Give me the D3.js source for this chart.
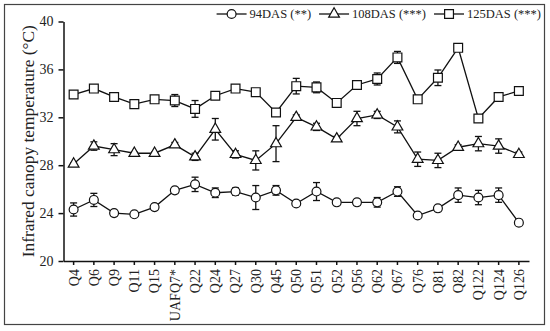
<!DOCTYPE html>
<html>
<head>
<meta charset="utf-8">
<script src="https://cdn.jsdelivr.net/npm/d3@7"></script>
<style>
  body { margin: 0; background: #fff; }
  svg text { font-family: "Liberation Serif", "DejaVu Serif", serif; fill: #222; }
</style>
</head>
<body>
<svg id="chart" width="550" height="331"></svg>
<script>
// genotypes on the x axis
const cats = ["Q4","Q6","Q9","Q11","Q15","UAFQ7*","Q22","Q24","Q27","Q30","Q45","Q50",
              "Q51","Q52","Q56","Q62","Q67","Q76","Q81","Q82","Q122","Q124","Q126"]

const das94  = [24.3,25.1,24.0,23.9,24.5,25.9,26.4,25.7,25.8,25.3,25.9,24.8,25.8,24.9,24.9,24.9,25.8,23.8,24.4,25.5,25.3,25.5,23.2]
const err94  = [0.55,0.55,0.1,0.1,0.1,0.2,0.6,0.4,0.3,1.0,0.4,0.1,0.75,0.1,0.2,0.4,0.4,0.1,0.1,0.6,0.6,0.6,0.1]

const das108 = [28.1,29.6,29.3,29.0,29.0,29.7,28.7,31.0,28.9,28.4,29.8,32.0,31.2,30.2,31.9,32.2,31.2,28.5,28.4,29.5,29.8,29.6,28.9]
const err108 = [0.1,0.35,0.5,0.1,0.1,0.2,0.3,0.9,0.3,0.8,1.5,0.2,0.3,0.2,0.6,0.3,0.5,0.6,0.6,0.2,0.6,0.6,0.2]

const das125 = [33.9,34.4,33.7,33.1,33.5,33.4,32.7,33.8,34.4,34.1,32.4,34.6,34.5,33.2,34.7,35.2,37.0,33.5,35.3,37.8,31.9,33.7,34.2]
const err125 = [0.2,0.2,0.2,0.1,0.2,0.5,0.7,0.2,0.2,0.2,0.2,0.65,0.45,0.1,0.3,0.5,0.5,0.1,0.65,0.2,0.1,0.2,0.2]

const yTicks = [20,24,28,32,36,40]

const series = [
    {name: "94DAS (**)",   vals: das94,  errs: err94,  shape: "circle"},
    {name: "108DAS (***)", vals: das108, errs: err108, shape: "triangle"},
    {name: "125DAS (***)", vals: das125, errs: err125, shape: "square"}
]

const svg = d3.select("#chart")

// outer frame
svg.append("rect")
    .attr("x", 4.5).attr("y", 4.5)
    .attr("width", 540).attr("height", 320)
    .attr("fill", "none").attr("stroke", "#444").attr("stroke-width", 1.2)

const x = d3.scaleBand().domain(cats).range([63.5, 529]).padding(0)
const y = d3.scaleLinear().domain([20, 40]).range([261, 21.5])
const cx = d => x(d) + x.bandwidth() / 2

// axes
const xAxis = svg.append("g")
    .attr("transform", "translate(0,261)")
    .call(d3.axisBottom(x).tickSize(4).tickSizeOuter(0))
xAxis.selectAll("text")
    .attr("transform", "rotate(-90)")
    .attr("text-anchor", "end")
    .attr("x", -8).attr("y", 0).attr("dy", "0.35em")
    .style("font-size", "14px")

const yAxis = svg.append("g")
    .attr("transform", "translate(63.5,0)")
    .call(d3.axisLeft(y).tickValues(yTicks).tickSize(5).tickSizeOuter(0))
yAxis.selectAll("text").attr("x", -10).style("font-size", "14px")

svg.selectAll(".domain, .tick line").attr("stroke", "#111").attr("stroke-width", 1.5)

svg.append("text")
    .attr("transform", "translate(34," + ((y(20) + y(40)) / 2) + ") rotate(-90)")
    .attr("text-anchor", "middle")
    .attr("textLength", 232).attr("lengthAdjust", "spacingAndGlyphs")
    .style("font-size", "16px")
    .text("Infrared canopy temperature (°C)")

function symbolPath(shape) {
    if (shape == "triangle") return d3.symbol(d3.symbolTriangle, 50)()
    if (shape == "square") return d3.symbol(d3.symbolSquare, 78)()
    return d3.symbol(d3.symbolCircle, 62)()
}

const line = d3.line().x(d => cx(d.c)).y(d => y(d.v))

for (const s of series) {
    const pts = cats.map((c, i) => ({c: c, v: s.vals[i], e: s.errs[i]}))
    const g = svg.append("g")

    g.append("path").datum(pts)
        .attr("d", line)
        .attr("fill", "none").attr("stroke", "#111").attr("stroke-width", 1.3)

    const eb = g.selectAll(".err").data(pts).enter().append("g")
    eb.append("line")
        .attr("x1", d => cx(d.c)).attr("x2", d => cx(d.c))
        .attr("y1", d => y(d.v - d.e)).attr("y2", d => y(d.v + d.e))
    eb.append("line")
        .attr("x1", d => cx(d.c) - 3.5).attr("x2", d => cx(d.c) + 3.5)
        .attr("y1", d => y(d.v + d.e)).attr("y2", d => y(d.v + d.e))
    eb.append("line")
        .attr("x1", d => cx(d.c) - 3.5).attr("x2", d => cx(d.c) + 3.5)
        .attr("y1", d => y(d.v - d.e)).attr("y2", d => y(d.v - d.e))
    eb.selectAll("line").attr("stroke", "#111").attr("stroke-width", 1.3)

    g.selectAll(".mark").data(pts).enter().append("path")
        .attr("d", symbolPath(s.shape))
        .attr("transform", d => `translate(${cx(d.c)},${y(d.v)})`)
        .attr("fill", "#fff").attr("stroke", "#111").attr("stroke-width", 1.2)
}

// legend, laid out right to left so it ends near the frame
const legend = svg.append("g")
let lx = 541
for (const s of series.slice().reverse()) {
    const item = legend.append("g")
    const t = item.append("text")
        .attr("y", 18)
        .style("font-size", "12.5px")
        .text(s.name)
    const w = t.node().getComputedTextLength()
    const start = lx - w - 33
    t.attr("x", start + 33)
    item.append("line")
        .attr("x1", start).attr("x2", start + 30)
        .attr("y1", 14).attr("y2", 14)
        .attr("stroke", "#111").attr("stroke-width", 1.3)
    item.append("path")
        .attr("d", symbolPath(s.shape))
        .attr("transform", `translate(${start + 15},14)`)
        .attr("fill", "#fff").attr("stroke", "#111").attr("stroke-width", 1.2)
    lx = start - 8
}
</script>
</body>
</html>
